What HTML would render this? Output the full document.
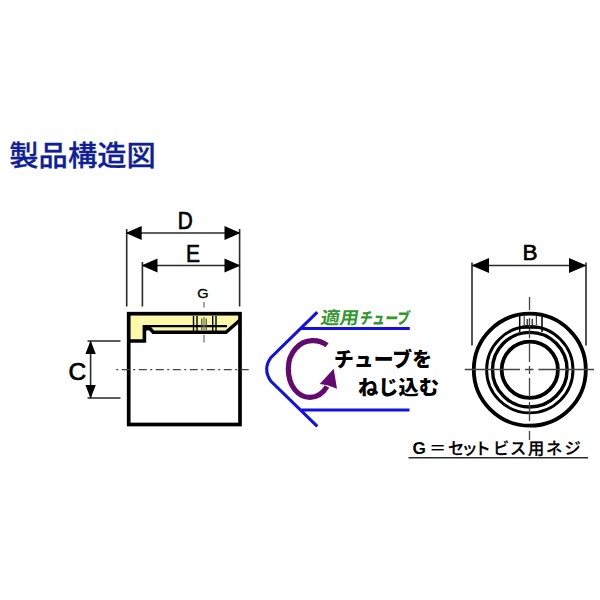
<!DOCTYPE html>
<html><head><meta charset="utf-8">
<style>
html,body{margin:0;padding:0;background:#fff;}
body{width:600px;height:600px;overflow:hidden;position:relative;font-family:"Liberation Sans","Noto Sans CJK JP",sans-serif;}
svg{position:absolute;left:0;top:0;}
text{font-family:"Liberation Sans","Noto Sans CJK JP",sans-serif;}
</style></head><body>
<svg width="600" height="600" viewBox="0 0 600 600">
<rect width="600" height="600" fill="#fff"/>
<!-- title -->
<text id="title" x="9.300" y="166.300" font-size="28.600" font-weight="500" fill="#101f96" stroke="#101f96" stroke-width="0.300" textLength="146.500" lengthAdjust="spacingAndGlyphs">製品構造図</text>

<!-- left part -->
<g id="left" stroke="#000" fill="none">
  <!-- yellow section -->
  <path d="M130,315 H239 V322 L226,332.500 H153 L150.500,328.500 H146 V340 H130 Z" fill="#fbf8a8" stroke="none"/>
  <path d="M142.300,317.500 V325" stroke="#fdfcd2" stroke-width="1.500"/>
  <rect x="128.700" y="313.700" width="111.300" height="110.800" stroke-width="3.700"/>
  <path d="M127,341 H144.400 V325" stroke-width="3.600"/>
  <path d="M143,326.200 H227" stroke-width="2.200"/>
  <path d="M145,328.800 H150.300 L153.200,332.200 H226 L239.500,320.500" stroke-width="3.400"/>
  <!-- screw -->
  <path d="M193.500,316 V331 M197,316 V331 M212.700,316 V331 M216,316 V331" stroke-width="1.400"/>
  <path d="M201.800,318.500 V330 M206.200,318.500 V330" stroke-width="1.200" stroke="#4a4a30"/>
  <path d="M204,302 V307.500 M204,317 V331 M204,335 V342.500" stroke-width="1.300" stroke="#777"/>
  <!-- center line -->
  <path d="M115,369.600 H250.500" stroke-width="1.300" stroke="#444" stroke-dasharray="8 3.500 2 3.500" stroke-dashoffset="10.250"/>
  <!-- D / E dimension -->
  <g stroke="#2a2a2a" stroke-width="1.600">
  <path d="M126.700,229 V306.500 M239.600,229 V306.500 M142.400,262 V306.500"/>
  <path d="M127,233 H240 M143,265.500 H240"/>
  <!-- C dimension -->
  <path d="M87.500,341 H120.500 M87.500,398 H120.500 M90.600,341 V398"/>
  </g>
  <path d="M125.700,233 L141.700,226 V240 Z M240.500,233 L224.500,226 V240 Z M141.500,265.500 L157.500,258.500 V272.500 Z M240.500,265.500 L224.500,258.500 V272.500 Z" fill="#000" stroke="none"/>
  <path d="M90.600,340.500 L85.400,354 H95.800 Z M90.600,398.500 L85.400,385 H95.800 Z" fill="#000" stroke="none"/>
</g>
<g fill="#000" stroke="#000" stroke-width="0.700">
<text x="185.300" y="229.300" font-size="23.500" text-anchor="middle" textLength="15" lengthAdjust="spacingAndGlyphs">D</text>
<text x="193" y="262.400" font-size="24.300" text-anchor="middle" textLength="14" lengthAdjust="spacingAndGlyphs">E</text>
<text x="202.900" y="297.600" font-size="12.500" text-anchor="middle" textLength="11.300" lengthAdjust="spacingAndGlyphs" stroke-width="0.350">G</text>
<text x="77.400" y="380.200" font-size="24.500" text-anchor="middle">C</text>
<text x="530" y="260.400" font-size="22.500" text-anchor="middle">B</text>
</g>

<!-- middle -->
<g fill="none">
  <path d="M317.300,312.100 L271,357.400 Q262.400,369.300 271,381.300 L317.300,426.400" stroke="#1212dc" stroke-width="3.100"/>
  <path d="M300.500,328.500 H409.800" stroke="#1212dc" stroke-width="3"/>
  <path d="M301.500,409.900 H409.500" stroke="#1212dc" stroke-width="3"/>
  <path d="M327,345.300 C322,341.500 317,340.500 312,340.700 C300,341 288.300,352 288.300,368.700 C288.300,386 298,397.300 310,397.300 C316,397.300 322,395 327,386.500" stroke="#620a70" stroke-width="5.200"/>
  <path d="M333.700,368.700 L319.700,384 L327.500,385.300 L337,388.700 Z" fill="#620a70" stroke="none"/>
</g>
<g font-weight="700" fill="#35982f">
<text transform="translate(320,323.500) skewX(-9)" x="0" y="0" font-size="17.500" textLength="38" lengthAdjust="spacingAndGlyphs">適用</text>
<text transform="translate(359,323.500) skewX(-9)" x="0" y="0" font-size="16" font-weight="900" textLength="50" lengthAdjust="spacingAndGlyphs">チューブ</text>
</g>
<text x="334" y="366.600" font-size="20.500" font-weight="900" fill="#000" textLength="98" lengthAdjust="spacingAndGlyphs">チューブを</text>
<text x="358" y="394.500" font-size="20.500" font-weight="900" fill="#000" textLength="81" lengthAdjust="spacingAndGlyphs">ねじ込む</text>

<!-- right part -->
<g stroke="#000" fill="none">
  <circle cx="529.800" cy="369.700" r="56" stroke-width="3.800"/>
  <circle cx="529.800" cy="369.700" r="43.200" stroke-width="2.900"/>
  <circle cx="529.800" cy="369.700" r="37.300" stroke-width="3.400"/>
  <circle cx="529.800" cy="369.700" r="28.100" stroke-width="3.800"/>
  <path d="M464.700,369.500 H520 M525,369.500 H533.500 M538.400,369.500 H594" stroke-width="1.300" stroke="#444"/>
  <path d="M529.500,297 V310 M529.500,318 V338 M529.500,343 V362 M529.500,366 V374 M529.500,378 V397 M529.500,402 V421 M529.500,431 V440" stroke-width="1.300" stroke="#444"/>
  <path d="M519.700,315 V332 M542,315 V332 M519.700,328 H542" stroke-width="1.500"/>
  <path d="M524.200,316 V325 M536.400,316 V325" stroke-width="1.200" stroke="#444"/>
  <path d="M527.300,319 V325 M532.300,319 V325" stroke-width="1.600" stroke="#444"/>
  <g stroke="#2a2a2a" stroke-width="1.600">
  <path d="M472,262.500 V345.500 M586,262.500 V345.500 M473,265.500 H585"/>
  <path d="M408.500,457.700 H588"/>
  </g>
  <path d="M471.500,265.500 L489,258 V273 Z M586.500,265.500 L569,258 V273 Z" fill="#000" stroke="none"/>
</g>
<text x="412.500" y="453.700" font-size="17.300" font-weight="700" fill="#000" textLength="13.400" lengthAdjust="spacingAndGlyphs">G</text>
<text x="429.500 448 461.500 474.500 493 510 528 546 564.500" y="453.600" font-size="16.300" font-weight="500" fill="#000" stroke="#000" stroke-width="0.250">＝セットビス用ネジ</text>
</svg>
</body></html>
